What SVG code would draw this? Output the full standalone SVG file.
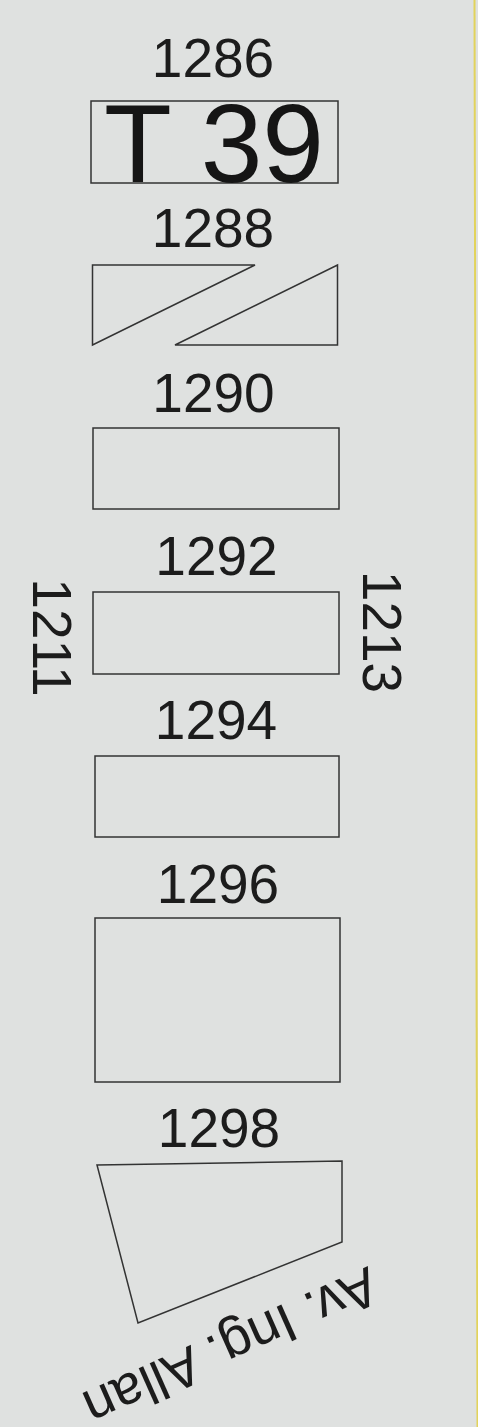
<svg xmlns="http://www.w3.org/2000/svg" width="478" height="1427" viewBox="0 0 478 1427">
<defs>
<style>
.bg{fill:#dfe1e0}
.lot{fill:none;stroke:#333333;stroke-width:1.5;stroke-linejoin:miter}
.num{font-family:"Liberation Sans",Arial,sans-serif;font-size:55px;fill:#1c1c1c;text-anchor:middle}
.big{font-family:"Liberation Sans",Arial,sans-serif;font-size:111px;fill:#151515}
.street{font-family:"Liberation Sans",Arial,sans-serif;font-size:55px;fill:#1c1c1c}
</style>
</defs>
<rect class="bg" x="0" y="0" width="478" height="1427"/>
<line x1="474.5" y1="0" x2="477.5" y2="1427" stroke="#e2d35c" stroke-width="2"/>

<g id="lot-1286">
<text class="num" x="213" y="77">1286</text>
<rect class="lot" x="91" y="101" width="247" height="82"/>
<text class="big" x="104" y="182">T 39</text>
</g>

<g id="lot-1288">
<text class="num" x="213" y="247">1288</text>
<polygon class="lot" points="92.5,265 255,265 92.5,345"/>
<polygon class="lot" points="337.5,265 337.5,345 175,345"/>
</g>

<g id="lot-1290">
<text class="num" x="213.5" y="412">1290</text>
<rect class="lot" x="93" y="428" width="246" height="81"/>
</g>

<g id="lot-1292">
<text class="num" x="216.5" y="575">1292</text>
<rect class="lot" x="93" y="592" width="246" height="82"/>
</g>

<g id="lot-1294">
<text class="num" x="216" y="739">1294</text>
<rect class="lot" x="95" y="756" width="244" height="81"/>
</g>

<g id="lot-1296">
<text class="num" x="218" y="903">1296</text>
<rect class="lot" x="95" y="918" width="245" height="164"/>
</g>

<g id="lot-1298">
<text class="num" x="219" y="1147">1298</text>
<polygon class="lot" points="97,1165 342,1161 342,1242 138,1323"/>
</g>

<g id="street-1211">
<text class="num" transform="translate(33,637.5) rotate(90)">1211</text>
</g>

<g id="street-1213">
<text class="num" transform="translate(363,632) rotate(90)">1213</text>
</g>

<g id="street-av-ing-allan">
<text class="street" transform="translate(368,1266) rotate(156)">Av. Ing. Allan</text>
</g>

<g id="connectors"></g>
</svg>
